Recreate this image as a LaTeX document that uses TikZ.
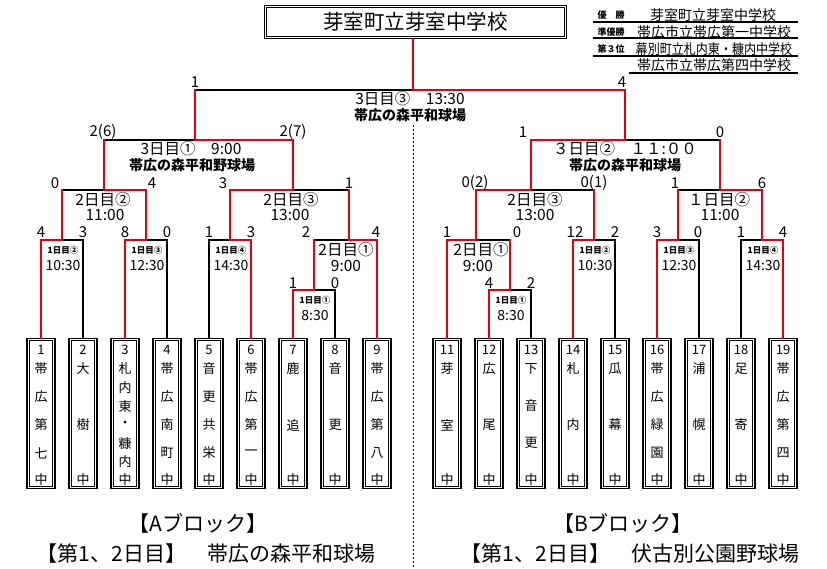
\documentclass[tikz,border=0pt]{standalone}
\usepackage{fontspec}
\setmainfont{Noto Sans CJK JP}
\usepackage{graphicx}
\usepackage{tikz}
\usetikzlibrary{positioning}
\definecolor{winred}{RGB}{228,0,18}

\begin{document}
\begin{tikzpicture}[
  x=1pt, y=-1pt,
  lose/.style={draw=black,line width=1.6pt,line cap=rect},
  win/.style={draw=winred,line width=2.8pt,line cap=rect},
  teambox/.style={draw,line width=1.1pt,minimum width=28pt,minimum height=150pt,inner sep=0pt},
  innerbox/.style={line width=0.7pt},
  titlebox/.style={draw,line width=1.1pt,minimum width=302pt,minimum height=33pt,font=\fontsize{20.5}{20.5}\selectfont},
  teamtxt/.style={font=\fontsize{13}{13}\selectfont,inner sep=0pt},
  score/.style={font=\fontsize{15}{15}\selectfont,inner sep=0pt},
  daytxt/.style={font=\fontsize{15.5}{15.5}\selectfont,inner sep=0pt},
  firstday/.style={font=\bfseries\fontsize{8.5}{8.5}\selectfont,inner sep=0pt},
  firsttime/.style={font=\fontsize{14}{14}\selectfont,inner sep=0pt},
  ground/.style={font=\bfseries\fontsize{14}{14}\selectfont,inner sep=0pt},
  rank/.style={font=\bfseries\fontsize{9}{9}\selectfont,inner sep=0pt},
  school/.style={font=\fontsize{14}{14}\selectfont,inner sep=0pt},
  blocktxt/.style={font=\fontsize{21}{21}\selectfont,inner sep=0pt},
  rule/.style={line width=1.5pt}
]
\useasboundingbox (0,0) rectangle (827,569);

% champion and results
\node[titlebox] (champ) at (415.5,22) {芽室町立芽室中学校};
\draw[innerbox] ([shift={(2.8,2.8)}]champ.north west) rectangle ([shift={(-2.8,-2.8)}]champ.south east);
\node[rank] (r1) at (611,15) {優　勝};
\node[rank] (r2) at (611,32) {準優勝};
\node[rank] (r3) at (611,49) {第３位};
\node[school] (n1) at (713,15) {芽室町立芽室中学校};
\node[school] (n2) at (714,32) {帯広市立帯広第一中学校};
\node[school] (n3) at (714,49) {\scalebox{0.86}[1]{幕別町立札内東・糠内中学校}};
\node[school] (n4) at (714,65) {帯広市立帯広第四中学校};
\foreach \y in {22,38,56}
  \draw[rule] (593,\y) -- (798,\y);
\draw[rule] (629,73) -- (798,73);

% teams
\foreach \n/\x/\g/\cs in {1/41/28/{帯,広,第,七}, 2/83/56/{大,樹},
    3/125/18.6/{札,内,東,・,糠,内}, 4/167/28/{帯,広,南,町},
    5/209/28/{音,更,共,栄}, 6/251/28/{帯,広,第,一}, 7/293/56/{鹿,追},
    8/335/56/{音,更}, 9/377/28/{帯,広,第,八}, 11/447/56/{芽,室},
    12/489/56/{広,尾}, 13/531/37/{下,音,更}, 14/573/56/{札,内},
    15/615/56/{瓜,幕}, 16/657/28/{帯,広,緑,園}, 17/699/56/{浦,幌},
    18/741/56/{足,寄}, 19/783/28/{帯,広,第,四}}{
  \node[teambox] (t\n) at (\x,413.5) {};
  \draw[innerbox] ([shift={(2.8,2.8)}]t\n.north west) rectangle ([shift={(-2.8,-2.8)}]t\n.south east);
  \node[teamtxt] (t\n-no) at (\x,350) {\n};
  \foreach \c [count=\k from 0] in \cs
    \node[teamtxt] (t\n-\k) at (\x,369+\k*\g) {\c};
  \node[teamtxt] (t\n-end) at (\x,480) {中};
}

% match points
\coordinate (a1) at (62,240);
\coordinate (a2) at (146,240);
\coordinate (a3) at (230,240);
\coordinate (a4) at (314,290);
\coordinate (a5) at (349,240);
\coordinate (a6) at (104,190);
\coordinate (a7) at (293,190);
\coordinate (a8) at (195,140);
\coordinate (b1) at (476,240);
\coordinate (b2) at (594,240);
\coordinate (b3) at (678,240);
\coordinate (b4) at (510,290);
\coordinate (b5) at (762,240);
\coordinate (b6) at (531,190);
\coordinate (b7) at (720,190);
\coordinate (b8) at (625,140);
\coordinate (f) at (413,90);

% lost
\draw[lose] (t2.north) |- (a1);
\draw[lose] (t4.north) |- (a2);
\draw[lose] (t5.north) |- (a3);
\draw[lose] (t8.north) |- (a4);
\draw[lose] (a4 |- a5) -- (a5);
\draw[lose] (a1 |- a6) -- (a6);
\draw[lose] (a5 |- a7) -- (a7);
\draw[lose] (a6 |- a8) -- (a8);
\draw[lose] (a8 |- f) -- (f);
\draw[lose] (t13.north) |- (b4);
\draw[lose] (b4 |- b1) -- (b1);
\draw[lose] (t15.north) |- (b2);
\draw[lose] (t17.north) |- (b3);
\draw[lose] (t18.north) |- (b5);
\draw[lose] (b2 |- b6) -- (b6);
\draw[lose] (b3 |- b7) -- (b7);
\draw[lose] (b7 |- b8) -- (b8);

% won
\draw[win] (t1.north) |- (a1);
\draw[win] (t3.north) |- (a2);
\draw[win] (t6.north) |- (a3);
\draw[win] (t7.north) |- (a4);
\draw[win] (t9.north) |- (a5);
\draw[win] (a1) -- (a1 |- a6);
\draw[win] (a2) |- (a6);
\draw[win] (a3) |- (a7);
\draw[win] (a4) -- (a4 |- a5);
\draw[win] (a5) -- (a5 |- a7);
\draw[win] (a6) -- (a6 |- a8);
\draw[win] (a7) |- (a8);
\draw[win] (a8) -- (a8 |- f);
\draw[win] (t11.north) |- (b1);
\draw[win] (t12.north) |- (b4);
\draw[win] (b4) -- (b4 |- b1);
\draw[win] (t14.north) |- (b2);
\draw[win] (t16.north) |- (b3);
\draw[win] (t19.north) |- (b5);
\draw[win] (b1) |- (b6);
\draw[win] (b2) -- (b2 |- b6);
\draw[win] (b3) -- (b3 |- b7);
\draw[win] (b5) |- (b7);
\draw[win] (b6) |- (b8);
\draw[win] (b7) -- (b7 |- b8);
\draw[win] (b8) |- (f);
\draw[win] (f) -- (f |- champ.south);

% scores
\foreach \x/\y/\s [count=\i] in {195/82/1, 622/82/4,
    103/132/2(6), 293/132/2(7), 523/132/1, 720/132/0,
    55/183/0, 152/183/4, 223/183/3, 349/183/1,
    475/183/0(2), 594/183/0(1), 675/183/1, 762/183/6,
    41/232/4, 83/232/3, 125/232/8, 167/232/0, 209/232/1, 251/232/3,
    306/232/2, 376/232/4, 447/232/1, 517/232/0, 575/232/12, 615/232/2,
    657/232/3, 698/232/0, 741/232/1, 783/232/4,
    293/283/1, 335/283/0, 489/283/4, 531/283/2}
  \node[score] (s\i) at (\x,\y) {\s};

% match labels
\node[daytxt] (fd) at (410,99) {3日目③　13:30};
\node[ground] (fg) at (410,115) {帯広の森平和球場};
\node[daytxt] (a8d) at (191,149) {3日目①　9:00};
\node[ground] (a8g) at (192,165) {帯広の森平和野球場};
\node[daytxt] (b8d) at (625,149) {３日目②　１１:００};
\node[ground] (b8g) at (625,165) {帯広の森平和球場};
\node[daytxt] (a6d) at (103,200) {2日目②};
\node[daytxt] (a6t) at (105,215) {11:00};
\node[daytxt] (a7d) at (291,200) {2日目③};
\node[daytxt] (a7t) at (290,215) {13:00};
\node[daytxt] (b6d) at (535,200) {2日目③};
\node[daytxt] (b6t) at (535,215) {13:00};
\node[daytxt] (b7d) at (719,200) {１日目②};
\node[daytxt] (b7t) at (720,215) {11:00};
\node[daytxt] (a5d) at (346,250) {2日目①};
\node[daytxt] (a5t) at (346,266) {9:00};
\node[daytxt] (b1d) at (481,250) {2日目①};
\node[daytxt] (b1t) at (478,266) {9:00};
\foreach \m/\x/\y/\d/\t in {a1/63/250/1日目②/10:30, a2/147/250/1日目③/12:30,
    a3/231/250/1日目④/14:30, a4/315/300/1日目①/8:30,
    b4/511/300/1日目①/8:30, b2/595/250/1日目②/10:30,
    b3/679/250/1日目③/12:30, b5/763/250/1日目④/14:30}{
  \node[firstday] (\m d) at (\x,\y) {\d};
  \node[firsttime] (\m t) at (\x,\y+16) {\t};
}

% blocks
\coordinate (divtop) at (413,125);
\coordinate (divbot) at (413,569);
\draw[dash pattern=on 2pt off 2pt,line width=0.6pt] (divtop) -- (divbot);
\node[blocktxt] (blkA) at (198,523) {【Aブロック】};
\node[blocktxt] (venA) at (206,554) {【第1、2日目】　帯広の森平和球場};
\node[blocktxt] (blkB) at (623,523) {【Bブロック】};
\node[blocktxt] (venB) at (630,554) {【第1、2日目】　伏古別公園野球場};

\end{tikzpicture}
\end{document}
